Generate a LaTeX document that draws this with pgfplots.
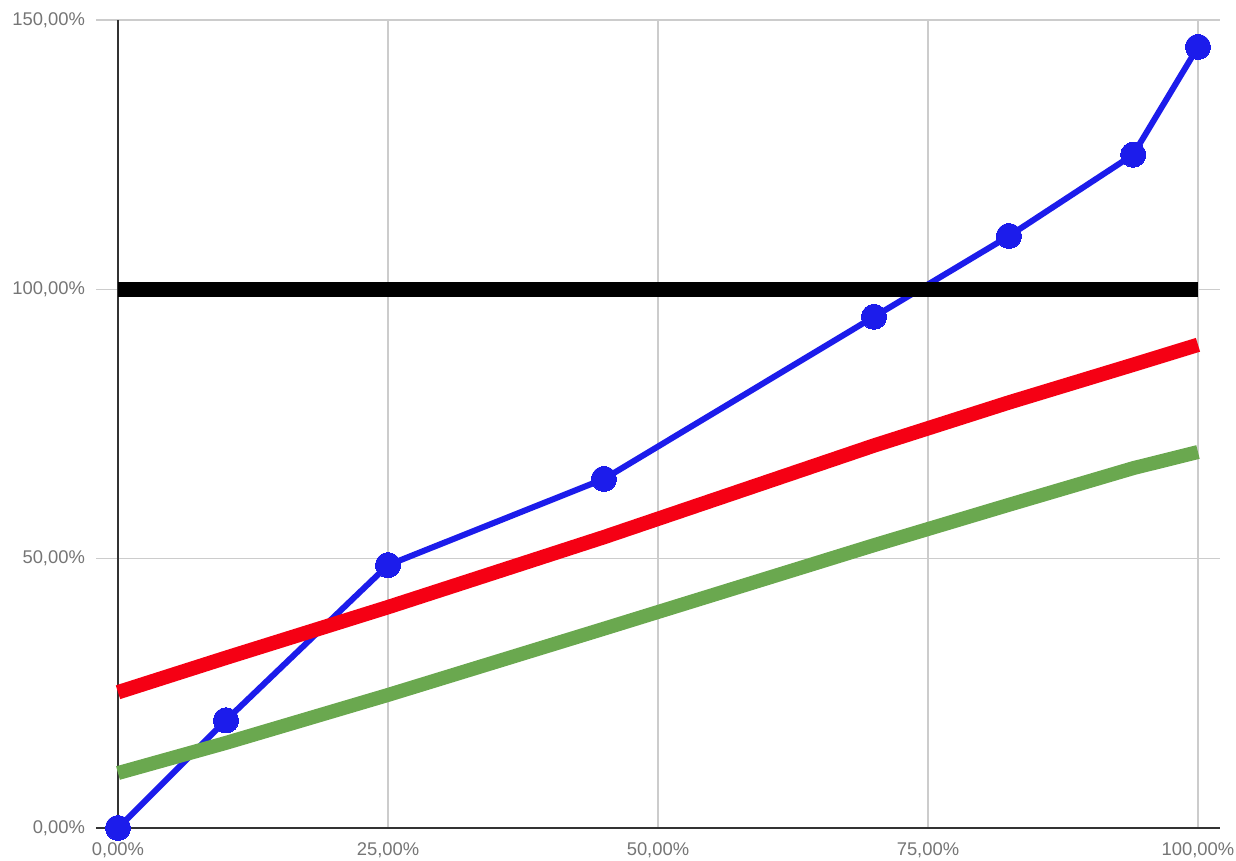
\documentclass[border=0pt]{standalone}
\usepackage{fontspec}
\setmainfont{Liberation Sans}
\usepackage{pgfplots}
\pgfplotsset{compat=1.18}

\definecolor{gridgray}{HTML}{CCCCCC}
\definecolor{labelgray}{HTML}{757575}
\definecolor{axisdark}{HTML}{333333}
\definecolor{lineblue}{HTML}{1C1CEB}
\definecolor{linered}{HTML}{F50014}
\definecolor{linegreen}{HTML}{6AA84F}

\begin{document}
\begin{tikzpicture}
\begin{axis}[
    name=ax,
    scale only axis,
    width=551pt, height=404pt,
    xmin=0, xmax=102.04,
    ymin=0, ymax=150,
    axis x line*=bottom,
    axis y line*=left,
    axis line style={-, draw=axisdark, line width=0.8pt},
    x axis line style={shorten <=-11pt},
    xtick={0,25,50,75,100},
    xticklabels={{0,00\%},{25,00\%},{50,00\%},{75,00\%},{100,00\%}},
    ytick={0,50,100,150},
    yticklabels={{0,00\%},{50,00\%},{100,00\%},{150,00\%}},
    xtick align=inside,
    ytick align=outside,
    major tick length=11pt,
    major x tick style={draw=none},
    major y tick style={draw=gridgray, line width=0.6pt},
    grid=major,
    grid style={draw=gridgray, line width=0.6pt},
    tick label style={font=\fontsize{9.2}{11}\selectfont, text=labelgray},
    xticklabel shift=4pt,
    yticklabel shift=2pt,
    clip=false,
]
% actual values
\addplot[lineblue, line width=3pt, mark=*, mark size=6.3pt,
         mark options={fill=lineblue, draw=lineblue, line width=0pt}]
  coordinates {(0,0) (10,20) (25,48.8) (45,64.8) (70,94.9) (82.5,109.9) (94,125) (100,145)};
% upper band
\addplot[linered, line width=7.2pt, line cap=butt]
  coordinates {(0,25.2) (10,31.6) (25,41) (45,54) (70,71) (82.5,79) (94,86) (100,89.7)};
% lower band
\addplot[linegreen, line width=7pt, line cap=butt]
  coordinates {(0,10.2) (10,15.8) (25,24.7) (45,37) (70,52.5) (82.5,60) (94,66.8) (100,69.8)};
% target
\addplot[black, line width=7.6pt, line cap=butt]
  coordinates {(0,100) (100,100)};
\end{axis}
\pgfresetboundingbox
\path[use as bounding box] ([xshift=-59pt,yshift=-16.5pt]ax.south west)
  rectangle ([xshift=8pt,yshift=10pt]ax.north east);
\end{tikzpicture}
\end{document}
